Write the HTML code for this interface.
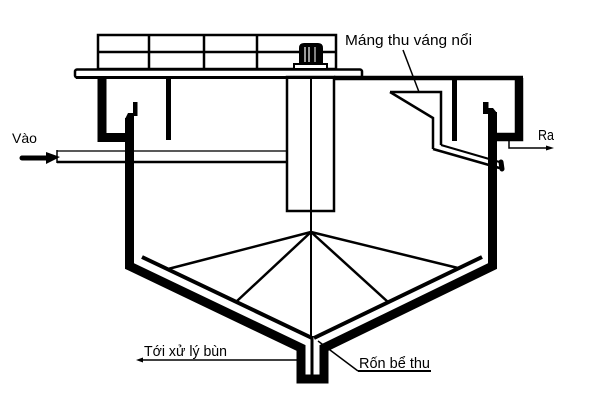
<!DOCTYPE html>
<html><head><meta charset="utf-8"><style>
html,body{margin:0;padding:0;background:#fff;}
svg{display:block}
text{font-family:"Liberation Sans","DejaVu Sans",sans-serif;fill:#000}
</style></head><body>
<svg width="600" height="400" viewBox="0 0 600 400" xmlns="http://www.w3.org/2000/svg">
<rect width="600" height="400" fill="#fff"/>
<!-- railing -->
<g fill="none" stroke="#000" stroke-width="2.5">
<rect x="98" y="35" width="238" height="34"/>
<line x1="98" y1="52" x2="336" y2="52"/>
<line x1="149" y1="35" x2="149" y2="69"/>
<line x1="204" y1="35" x2="204" y2="69"/>
<line x1="257" y1="35" x2="257" y2="69"/>
</g>
<!-- motor -->
<path d="M299,65 V48 Q299,43 304,43 H318 Q323,43 323,48 V65 Z" fill="#000"/>
<line x1="305" y1="47" x2="305" y2="62" stroke="#fff" stroke-width="1.2"/>
<line x1="309" y1="47" x2="309" y2="62" stroke="#fff" stroke-width="1.2"/>
<line x1="315" y1="47" x2="315" y2="62" stroke="#fff" stroke-width="1"/>
<rect x="294" y="64" width="33" height="5" fill="#fff" stroke="#000" stroke-width="2"/>
<!-- platform -->
<rect x="75" y="69.5" width="287" height="8" rx="2" fill="#fff" stroke="#000" stroke-width="2.5"/>
<line x1="76" y1="77.5" x2="362" y2="77.5" stroke="#000" stroke-width="3"/>
<line x1="334" y1="78" x2="523" y2="78" stroke="#000" stroke-width="4.5"/>
<!-- inlet pipe -->
<line x1="57" y1="151" x2="287" y2="151" stroke="#222" stroke-width="1.6"/>
<line x1="57" y1="162" x2="287" y2="162" stroke="#000" stroke-width="2.5"/>
<line x1="57" y1="150" x2="57" y2="163" stroke="#000" stroke-width="1.5"/>
<line x1="22" y1="158" x2="50" y2="158" stroke="#000" stroke-width="5" stroke-linecap="round"/>
<polygon points="46,152 60,157 46,164" fill="#000"/>
<!-- center column -->
<rect x="287" y="77" width="47" height="134" fill="none" stroke="#000" stroke-width="2.5"/>
<line x1="311" y1="77" x2="311" y2="338" stroke="#000" stroke-width="2"/>
<!-- left outer L -->
<path d="M102,78 V137.5 H128" fill="none" stroke="#000" stroke-width="9" stroke-linejoin="miter"/>
<!-- main tank -->
<path d="M129.5,118 V266 L301,348 V379 H324 V348 L492.5,266 V112" fill="none" stroke="#000" stroke-width="9" stroke-linejoin="miter"/>
<polygon points="125,119 128,113 133,113 133,102 137.5,102 137.5,116 134,116 134,122 125,122" fill="#000"/>
<polygon points="483,102 488.5,102 488.5,108 493,108 497,113 497,118 488,118 488,114 483,114" fill="#000"/>
<!-- inner cone -->
<line x1="142" y1="257" x2="312" y2="338" stroke="#000" stroke-width="4"/>
<line x1="482" y1="257" x2="314" y2="338" stroke="#000" stroke-width="4"/>
<line x1="312" y1="336" x2="312" y2="376" stroke="#000" stroke-width="3"/>
<!-- rake arms -->
<g stroke="#000" stroke-width="2.5">
<line x1="311" y1="232" x2="168" y2="269"/>
<line x1="311" y1="232" x2="237" y2="301"/>
<line x1="311" y1="232" x2="388" y2="302"/>
<line x1="311" y1="232" x2="458" y2="268"/>
</g>
<!-- baffles -->
<rect x="166" y="78" width="5" height="62" fill="#000"/>
<rect x="452" y="78" width="5" height="63" fill="#000"/>
<!-- right outer L -->
<path d="M519,78 V137 H494" fill="none" stroke="#000" stroke-width="8.5" stroke-linejoin="miter"/>
<!-- scum trough -->
<g fill="none" stroke="#000" stroke-width="2.5">
<path d="M390,92 H441 V145"/>
<path d="M390,92 L433,118 V149"/>
<line x1="441" y1="145" x2="503" y2="163" stroke-width="2"/>
<line x1="433" y1="149" x2="503" y2="169"/>
</g>
<line x1="501" y1="162" x2="502" y2="169" stroke="#000" stroke-width="5" stroke-linecap="round"/>
<line x1="403" y1="50" x2="419" y2="92" stroke="#000" stroke-width="1.5"/>
<!-- Ra -->
<path d="M509,141 V148 H550" fill="none" stroke="#000" stroke-width="1.5"/>
<polygon points="554,148 546,145.5 546,150.5" fill="#000"/>
<!-- to sludge -->
<line x1="297" y1="360" x2="140" y2="360" stroke="#000" stroke-width="1.5"/>
<polygon points="136,360 143,357.5 143,362.5" fill="#000"/>
<!-- sump leader -->
<line x1="318" y1="341" x2="358" y2="371" stroke="#000" stroke-width="1.5"/>
<line x1="358" y1="371" x2="431" y2="371" stroke="#000" stroke-width="2"/>
<!-- texts -->
<text x="12" y="143" font-size="14" textLength="25" lengthAdjust="spacingAndGlyphs">Vào</text>
<text x="345" y="45" font-size="15" textLength="127" lengthAdjust="spacingAndGlyphs">Máng thu váng nổi</text>
<text x="538" y="140" font-size="15" textLength="16" lengthAdjust="spacingAndGlyphs">Ra</text>
<text x="144" y="356" font-size="15" textLength="83" lengthAdjust="spacingAndGlyphs">Tới xử lý bùn</text>
<text x="359" y="368" font-size="15" textLength="71" lengthAdjust="spacingAndGlyphs">Rốn bể thu</text>
</svg>
</body></html>
